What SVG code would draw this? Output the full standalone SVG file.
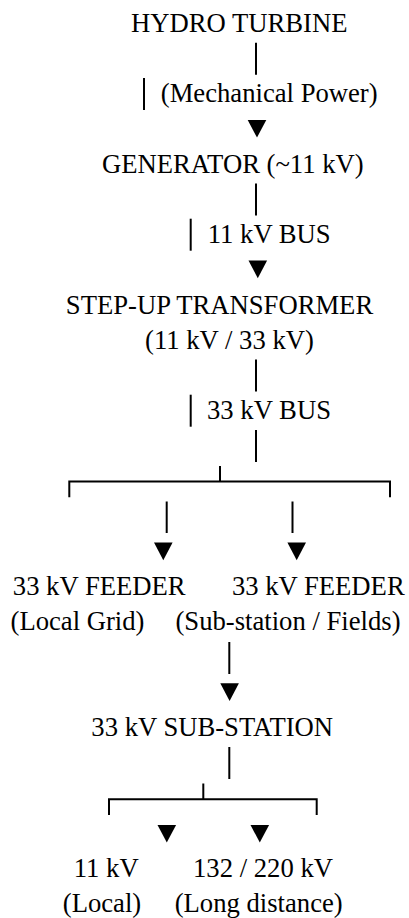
<svg xmlns="http://www.w3.org/2000/svg" width="409" height="918" viewBox="0 0 409 918">
<style>
  text { font-family: 'Liberation Serif', 'DejaVu Serif', serif; font-size: 26.67px; fill: #000; text-anchor: middle; }
  .ln { stroke: #000; stroke-width: 2; fill: none; }
  .ar { fill: #000; stroke: none; }
</style>
<rect width="409" height="918" fill="#fff"/>
<g id="connectors">
  <line class="ln" x1="256" y1="42.7" x2="256" y2="74.7"/>
  <line class="ln" x1="144" y1="78" x2="144" y2="110"/>
  <text x="269.2" y="102.4">(Mechanical Power)</text>
  <polygon class="ar" points="247.7,120 266.3,120 257,137.6"/>

  <line class="ln" x1="256" y1="183.5" x2="256" y2="215.5"/>
  <line class="ln" x1="190.7" y1="218.7" x2="190.7" y2="250.7"/>
  <text x="269.2" y="243.2">11 kV BUS</text>
  <polygon class="ar" points="248.5,260.6 267.1,260.6 257.8,278.2"/>

  <line class="ln" x1="256" y1="359.5" x2="256" y2="391.5"/>
  <line class="ln" x1="190.7" y1="394.7" x2="190.7" y2="426.7"/>
  <text x="269" y="419.2">33 kV BUS</text>
  <line class="ln" x1="256" y1="430" x2="256" y2="462"/>

  <line class="ln" x1="220" y1="466" x2="220" y2="481.5"/>
  <polyline class="ln" points="69.3,497.3 69.3,481.5 390,481.5 390,497.3"/>
  <line class="ln" x1="166.7" y1="501.5" x2="166.7" y2="533"/>
  <line class="ln" x1="292.5" y1="501.5" x2="292.5" y2="533"/>
  <polygon class="ar" points="154,542.4 172.6,542.4 163.3,560.2"/>
  <polygon class="ar" points="287.4,542.4 306,542.4 296.7,560.2"/>

  <line class="ln" x1="229.3" y1="642" x2="229.3" y2="674"/>
  <polygon class="ar" points="220.3,683.3 238.9,683.3 229.6,701"/>

  <line class="ln" x1="229.3" y1="747" x2="229.3" y2="779"/>
  <line class="ln" x1="203.3" y1="783.5" x2="203.3" y2="799.3"/>
  <polyline class="ln" points="109,815 109,799.3 316.7,799.3 316.7,815"/>
  <polygon class="ar" points="157.5,825 176.1,825 166.8,842.6"/>
  <polygon class="ar" points="250.5,825 269.1,825 259.8,842.6"/>
</g>
<g id="hydro-turbine"><text x="239.2" y="32">HYDRO TURBINE</text></g>
<g id="generator"><text x="232.8" y="172.8">GENERATOR (~11 kV)</text></g>
<g id="step-up-transformer">
  <text x="219.5" y="313.6">STEP-UP TRANSFORMER</text>
  <text x="229.5" y="348.8">(11 kV / 33 kV)</text>
</g>
<g id="feeder-local">
  <text x="99.2" y="595.2">33 kV FEEDER</text>
  <text x="77.5" y="630.4">(Local Grid)</text>
</g>
<g id="feeder-substation">
  <text x="318.3" y="595.2">33 kV FEEDER</text>
  <text x="288" y="630.4">(Sub-station / Fields)</text>
</g>
<g id="substation"><text x="212.2" y="736">33 kV SUB-STATION</text></g>
<g id="out-11kv">
  <text x="106.2" y="876.8">11 kV</text>
  <text x="102" y="912">(Local)</text>
</g>
<g id="out-132-220kv">
  <text x="263" y="876.8">132 / 220 kV</text>
  <text x="258.7" y="912">(Long distance)</text>
</g>
</svg>
